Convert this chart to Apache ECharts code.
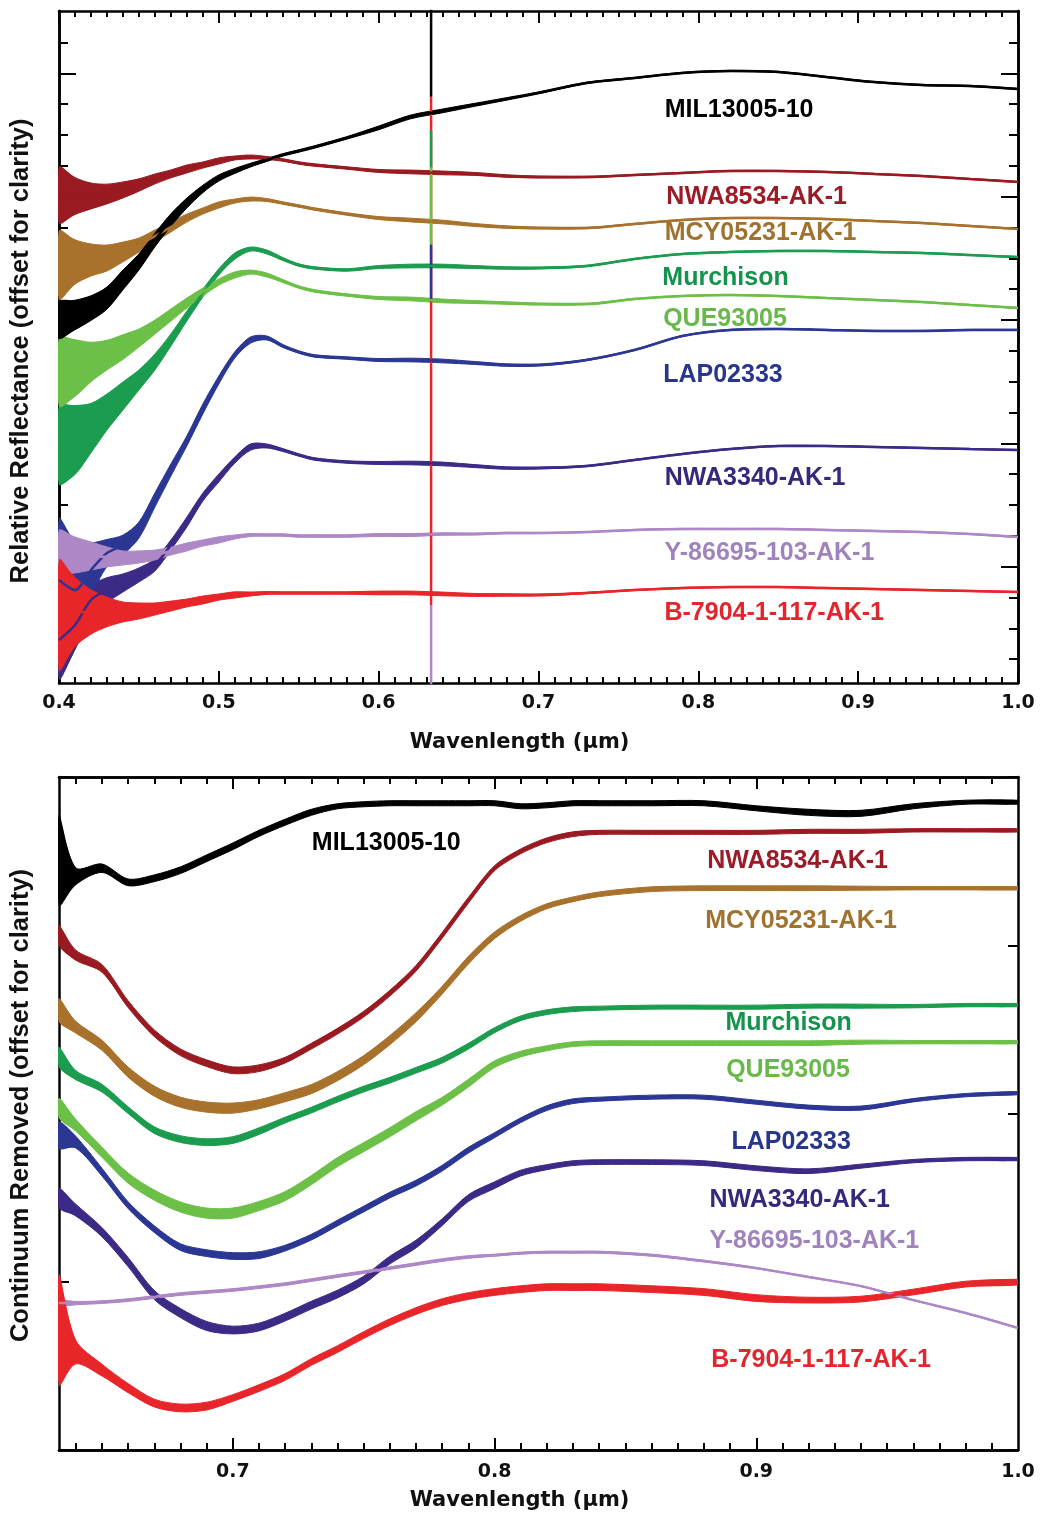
<!DOCTYPE html>
<html>
<head>
<meta charset="utf-8">
<title>Reflectance spectra</title>
<script src="https://cdn.jsdelivr.net/npm/echarts@6/dist/echarts.min.js"></script>
<style>
  html, body { margin: 0; padding: 0; background: #fff; }
  #chart { width: 1042px; height: 1515px; }
</style>
</head>
<body>
<div id="chart"></div>
<script>
// sample names, top to bottom as labelled in the figure
const names = ['MIL13005-10', 'NWA8534-AK-1', 'MCY05231-AK-1', 'Murchison', 'QUE93005',
  'LAP02333', 'NWA3340-AK-1', 'Y-86695-103-AK-1', 'B-7904-1-117-AK-1'];
const lineColors = ['#000000', '#9a1a22', '#a8722c', '#1b9c4e', '#6cc047',
  '#2b3793', '#3d2a86', '#ae88c6', '#e8262a'];
const textColors = ['#000000', '#9b1b27', '#a0722f', '#15924c', '#68b94a',
  '#28378b', '#36287a', '#a083bd', '#e3262e'];
// order in which the curves are stacked (last one on top)
const drawOrder = [6, 5, 7, 3, 4, 2, 1, 0, 8];

// ---------- top panel: relative reflectance (offset), one unit = one major tick ----------
const topWl = [0.40, 0.41, 0.42, 0.43, 0.44, 0.45, 0.46, 0.47, 0.48, 0.49, 0.50, 0.51, 0.52, 0.53, 0.54, 0.55, 0.56,
  0.58, 0.60, 0.62, 0.64, 0.66, 0.68, 0.70, 0.73, 0.76, 0.79, 0.82, 0.85, 0.88, 0.91, 0.94, 0.97, 1.00];

const topMil = [2.000, 2.041, 2.097, 2.178, 2.325, 2.471, 2.649, 2.811, 2.949, 3.063, 3.152, 3.209, 3.257, 3.298, 3.339, 3.371, 3.404,
  3.477, 3.558, 3.647, 3.696, 3.745, 3.793, 3.842, 3.923, 3.963, 4.004, 4.020, 4.012, 3.971, 3.930, 3.906, 3.898, 3.874];
const topNwa8534 = [3.014, 3.006, 3.006, 3.022, 3.055, 3.095, 3.144, 3.185, 3.225, 3.257, 3.290, 3.314, 3.322, 3.314, 3.298, 3.274, 3.257,
  3.233, 3.209, 3.201, 3.193, 3.185, 3.168, 3.160, 3.160, 3.176, 3.193, 3.209, 3.209, 3.201, 3.185, 3.168, 3.144, 3.120];
const topMcy = [2.446, 2.471, 2.487, 2.503, 2.552, 2.608, 2.681, 2.754, 2.827, 2.884, 2.933, 2.965, 2.981, 2.973, 2.949, 2.925, 2.900,
  2.860, 2.827, 2.811, 2.795, 2.771, 2.754, 2.746, 2.746, 2.779, 2.811, 2.827, 2.827, 2.819, 2.803, 2.787, 2.763, 2.738];
const topMurchison = [0.987, 1.027, 1.124, 1.254, 1.384, 1.514, 1.660, 1.838, 2.033, 2.219, 2.390, 2.519, 2.576, 2.552, 2.495, 2.446, 2.422,
  2.406, 2.430, 2.438, 2.438, 2.430, 2.422, 2.422, 2.438, 2.495, 2.536, 2.552, 2.560, 2.560, 2.552, 2.544, 2.527, 2.511];
const topQue = [1.579, 1.611, 1.660, 1.716, 1.781, 1.854, 1.943, 2.041, 2.138, 2.227, 2.308, 2.365, 2.389, 2.365, 2.317, 2.268, 2.236,
  2.203, 2.179, 2.171, 2.155, 2.146, 2.138, 2.130, 2.130, 2.171, 2.195, 2.203, 2.195, 2.179, 2.163, 2.146, 2.122, 2.098];
const topLap = [-0.108, -0.189, -0.027, 0.111, 0.176, 0.297, 0.541, 0.784, 1.020, 1.279, 1.514, 1.717, 1.839, 1.855, 1.790, 1.741, 1.709,
  1.692, 1.676, 1.676, 1.668, 1.652, 1.635, 1.635, 1.676, 1.757, 1.871, 1.920, 1.928, 1.920, 1.912, 1.912, 1.920, 1.920];
const topNwa3340 = [-0.594, -0.473, -0.270, -0.189, -0.132, -0.067, 0.014, 0.176, 0.362, 0.565, 0.719, 0.865, 0.971, 0.979, 0.946, 0.906, 0.873,
  0.849, 0.841, 0.841, 0.833, 0.816, 0.800, 0.800, 0.816, 0.865, 0.914, 0.954, 0.979, 0.979, 0.971, 0.963, 0.954, 0.946];
const topY86695 = [0.119, 0.095, 0.087, 0.079, 0.071, 0.079, 0.095, 0.127, 0.160, 0.192, 0.217, 0.241, 0.257, 0.257, 0.257, 0.249, 0.249,
  0.249, 0.257, 0.257, 0.265, 0.265, 0.273, 0.273, 0.281, 0.298, 0.306, 0.306, 0.306, 0.298, 0.290, 0.281, 0.265, 0.241];
const topB7904 = [-0.392, -0.367, -0.367, -0.367, -0.367, -0.359, -0.343, -0.319, -0.294, -0.270, -0.246, -0.229, -0.221, -0.213, -0.213, -0.213, -0.213,
  -0.213, -0.213, -0.213, -0.221, -0.229, -0.229, -0.229, -0.213, -0.189, -0.173, -0.165, -0.165, -0.173, -0.181, -0.189, -0.197, -0.205];

// half width of the noise band around each curve
const topNoiseMil = [0.15, 0.12, 0.10, 0.09, 0.08, 0.065, 0.055, 0.05, 0.04, 0.03, 0.025, 0.02, 0.015, 0.012, 0.01, 0.01, 0.01,
  0.01, 0.015, 0.015, 0.015, 0.012, 0.01, 0.008, 0.006, 0.005, 0.005, 0.005, 0.005, 0.005, 0.005, 0.005, 0.005, 0.005];
const topNoiseNwa8534 = [0.23, 0.15, 0.105, 0.08, 0.065, 0.05, 0.04, 0.032, 0.032, 0.025, 0.025, 0.016, 0.016, 0.012, 0.01, 0.01, 0.01,
  0.01, 0.012, 0.015, 0.015, 0.012, 0.01, 0.008, 0.006, 0.005, 0.005, 0.005, 0.005, 0.005, 0.005, 0.005, 0.005, 0.005];
const topNoiseMcy = [0.28, 0.18, 0.13, 0.105, 0.08, 0.057, 0.049, 0.04, 0.032, 0.025, 0.025, 0.016, 0.016, 0.012, 0.01, 0.01, 0.01,
  0.01, 0.012, 0.015, 0.015, 0.012, 0.01, 0.008, 0.006, 0.005, 0.005, 0.005, 0.005, 0.005, 0.005, 0.005, 0.005, 0.005];
const topNoiseMurchison = [0.32, 0.28, 0.20, 0.146, 0.114, 0.081, 0.065, 0.049, 0.04, 0.032, 0.025, 0.025, 0.016, 0.016, 0.012, 0.01, 0.01,
  0.01, 0.012, 0.015, 0.015, 0.012, 0.01, 0.008, 0.006, 0.005, 0.005, 0.005, 0.005, 0.005, 0.005, 0.005, 0.005, 0.005];
const topNoiseQue = [0.28, 0.23, 0.16, 0.12, 0.10, 0.073, 0.057, 0.049, 0.04, 0.032, 0.025, 0.025, 0.016, 0.016, 0.012, 0.01, 0.01,
  0.01, 0.012, 0.015, 0.015, 0.012, 0.01, 0.008, 0.006, 0.005, 0.005, 0.005, 0.005, 0.005, 0.005, 0.005, 0.005, 0.005];
const topNoiseLap = [0.50, 0.40, 0.22, 0.11, 0.08, 0.065, 0.057, 0.049, 0.04, 0.04, 0.032, 0.025, 0.025, 0.016, 0.012, 0.01, 0.01,
  0.01, 0.012, 0.015, 0.015, 0.012, 0.01, 0.008, 0.006, 0.005, 0.005, 0.005, 0.005, 0.005, 0.005, 0.005, 0.005, 0.005];
const topNoiseNwa3340 = [0.32, 0.20, 0.12, 0.10, 0.073, 0.057, 0.049, 0.04, 0.04, 0.032, 0.032, 0.025, 0.025, 0.016, 0.012, 0.01, 0.01,
  0.01, 0.012, 0.015, 0.015, 0.012, 0.01, 0.008, 0.006, 0.005, 0.005, 0.005, 0.005, 0.005, 0.005, 0.005, 0.005, 0.005];
const topNoiseY86695 = [0.18, 0.146, 0.114, 0.081, 0.057, 0.049, 0.04, 0.032, 0.032, 0.025, 0.025, 0.016, 0.012, 0.01, 0.01, 0.01, 0.01,
  0.01, 0.012, 0.012, 0.01, 0.008, 0.006, 0.005, 0.005, 0.005, 0.005, 0.005, 0.005, 0.005, 0.005, 0.005, 0.005, 0.005];
const topNoiseB7904 = [0.45, 0.28, 0.18, 0.12, 0.081, 0.065, 0.049, 0.04, 0.032, 0.032, 0.025, 0.025, 0.016, 0.012, 0.01, 0.01, 0.01,
  0.01, 0.015, 0.015, 0.015, 0.012, 0.01, 0.008, 0.006, 0.005, 0.005, 0.005, 0.005, 0.005, 0.005, 0.005, 0.005, 0.005];

// the laser line artefact near 0.633 µm: vertical streaks, drawn in this order
const laserWl = 0.6328;
const laserSample = [8, 7, 0, 3, 4, 5];
const laserHigh = [3.81, -0.31, 4.52, 3.54, 3.24, 2.61];
const laserLow = [-0.31, -0.96, 3.81, 3.24, 2.61, 2.16];

const topLabelWl = [0.779, 0.780, 0.779, 0.7775, 0.778, 0.778, 0.779, 0.7788, 0.7788];
const topLabelY = [3.703, 2.998, 2.706, 2.341, 2.008, 1.554, 0.719, 0.111, -0.375];

const topYMajor = [0, 1, 2, 3, 4];
const topYMinor = [-0.75, -0.5, -0.25, 0.25, 0.5, 0.75, 1.25, 1.5, 1.75, 2.25, 2.5, 2.75, 3.25, 3.5, 3.75, 4.25];

// ---------- bottom panel: continuum removed (offset) ----------
const botWl = [0.6336, 0.64, 0.65, 0.66, 0.67, 0.68, 0.69, 0.70, 0.71, 0.72, 0.73, 0.74, 0.75, 0.76, 0.77, 0.78, 0.79, 0.80,
  0.81, 0.82, 0.83, 0.84, 0.86, 0.88, 0.90, 0.92, 0.94, 0.96, 0.98, 1.00];

const botMil = [3.505, 3.410, 3.458, 3.374, 3.398, 3.446, 3.517, 3.588, 3.665, 3.731, 3.790, 3.826, 3.838, 3.844, 3.844, 3.844, 3.844, 3.844,
  3.826, 3.832, 3.844, 3.844, 3.844, 3.844, 3.814, 3.790, 3.784, 3.826, 3.850, 3.850];
const botNwa8534 = [3.059, 2.941, 2.863, 2.650, 2.477, 2.364, 2.299, 2.257, 2.269, 2.317, 2.400, 2.489, 2.590, 2.715, 2.863, 3.059, 3.267, 3.458,
  3.558, 3.624, 3.660, 3.671, 3.671, 3.671, 3.671, 3.677, 3.677, 3.683, 3.683, 3.683];
const botMcy = [2.614, 2.513, 2.406, 2.246, 2.133, 2.067, 2.038, 2.032, 2.055, 2.097, 2.145, 2.222, 2.317, 2.436, 2.572, 2.733, 2.911, 3.059,
  3.160, 3.232, 3.273, 3.303, 3.333, 3.339, 3.339, 3.339, 3.339, 3.339, 3.339, 3.339];
const botMurchison = [2.335, 2.228, 2.151, 2.020, 1.901, 1.848, 1.830, 1.842, 1.895, 1.961, 2.020, 2.085, 2.145, 2.198, 2.257, 2.317, 2.400, 2.495,
  2.566, 2.602, 2.620, 2.626, 2.632, 2.632, 2.632, 2.638, 2.638, 2.638, 2.644, 2.644];
const botQue = [2.032, 1.931, 1.770, 1.616, 1.515, 1.444, 1.408, 1.408, 1.450, 1.509, 1.604, 1.711, 1.800, 1.889, 1.984, 2.073, 2.180, 2.293,
  2.353, 2.388, 2.412, 2.418, 2.418, 2.418, 2.418, 2.418, 2.424, 2.424, 2.424, 2.424];
const botLap = [1.871, 1.830, 1.652, 1.455, 1.313, 1.206, 1.170, 1.153, 1.158, 1.200, 1.265, 1.349, 1.432, 1.515, 1.586, 1.675, 1.782, 1.871,
  1.960, 2.032, 2.073, 2.085, 2.097, 2.097, 2.067, 2.038, 2.032, 2.079, 2.109, 2.121];
const botNwa3340 = [1.497, 1.426, 1.295, 1.117, 0.921, 0.814, 0.737, 0.713, 0.731, 0.790, 0.861, 0.927, 1.010, 1.129, 1.224, 1.354, 1.497, 1.574,
  1.646, 1.681, 1.705, 1.711, 1.711, 1.705, 1.675, 1.657, 1.687, 1.717, 1.729, 1.729];
const botY86695 = [0.873, 0.873, 0.879, 0.891, 0.909, 0.927, 0.939, 0.951, 0.968, 0.986, 1.010, 1.034, 1.057, 1.081, 1.105, 1.129, 1.147, 1.158,
  1.170, 1.176, 1.176, 1.176, 1.158, 1.123, 1.081, 1.028, 0.974, 0.891, 0.814, 0.725];
const botB7904 = [0.713, 0.582, 0.475, 0.368, 0.279, 0.250, 0.261, 0.309, 0.368, 0.434, 0.523, 0.600, 0.683, 0.760, 0.826, 0.879, 0.915, 0.939,
  0.956, 0.968, 0.968, 0.968, 0.956, 0.939, 0.903, 0.891, 0.897, 0.939, 0.986, 0.998];

const botNoiseMil = [0.27, 0.05, 0.025, 0.02, 0.02, 0.02, 0.02, 0.02, 0.018, 0.018, 0.018, 0.015, 0.015, 0.015, 0.015, 0.015, 0.015, 0.015,
  0.015, 0.015, 0.015, 0.015, 0.015, 0.015, 0.015, 0.018, 0.018, 0.015, 0.012, 0.012];
const botNoiseNwa8534 = [0.06, 0.03, 0.023, 0.02, 0.02, 0.02, 0.02, 0.02, 0.02, 0.017, 0.017, 0.017, 0.017, 0.017, 0.017, 0.017, 0.017, 0.015,
  0.014, 0.014, 0.014, 0.012, 0.012, 0.012, 0.012, 0.012, 0.012, 0.01, 0.01, 0.01];
const botNoiseMcy = [0.07, 0.035, 0.03, 0.03, 0.03, 0.03, 0.03, 0.03, 0.027, 0.027, 0.027, 0.027, 0.027, 0.027, 0.027, 0.023, 0.023, 0.02,
  0.017, 0.015, 0.014, 0.014, 0.014, 0.014, 0.014, 0.014, 0.012, 0.01, 0.01, 0.01];
const botNoiseMurchison = [0.06, 0.027, 0.023, 0.02, 0.02, 0.02, 0.02, 0.02, 0.02, 0.017, 0.017, 0.017, 0.017, 0.017, 0.017, 0.017, 0.017, 0.015,
  0.014, 0.014, 0.014, 0.012, 0.012, 0.012, 0.012, 0.012, 0.012, 0.01, 0.01, 0.01];
const botNoiseQue = [0.06, 0.035, 0.03, 0.03, 0.03, 0.03, 0.03, 0.03, 0.027, 0.027, 0.027, 0.027, 0.027, 0.027, 0.027, 0.023, 0.023, 0.02,
  0.017, 0.015, 0.014, 0.014, 0.014, 0.014, 0.014, 0.014, 0.012, 0.01, 0.01, 0.01];
const botNoiseLap = [0.08, 0.035, 0.023, 0.02, 0.02, 0.02, 0.02, 0.02, 0.02, 0.017, 0.017, 0.017, 0.017, 0.017, 0.017, 0.017, 0.017, 0.015,
  0.014, 0.014, 0.014, 0.012, 0.012, 0.012, 0.012, 0.012, 0.012, 0.01, 0.01, 0.01];
const botNoiseNwa3340 = [0.06, 0.035, 0.027, 0.027, 0.027, 0.027, 0.027, 0.023, 0.023, 0.023, 0.023, 0.023, 0.023, 0.023, 0.023, 0.02, 0.02, 0.02,
  0.017, 0.015, 0.014, 0.014, 0.014, 0.014, 0.014, 0.014, 0.012, 0.01, 0.01, 0.01];
const botNoiseY86695 = [0.02, 0.01, 0.008, 0.008, 0.008, 0.008, 0.008, 0.008, 0.008, 0.008, 0.008, 0.008, 0.008, 0.008, 0.008, 0.008, 0.008, 0.006,
  0.006, 0.006, 0.006, 0.006, 0.006, 0.005, 0.004, 0.003, 0.003, 0.003, 0.003, 0.003];
const botNoiseB7904 = [0.33, 0.07, 0.035, 0.027, 0.023, 0.023, 0.023, 0.02, 0.02, 0.02, 0.02, 0.02, 0.02, 0.02, 0.02, 0.02, 0.02, 0.02,
  0.02, 0.02, 0.02, 0.02, 0.02, 0.02, 0.02, 0.017, 0.017, 0.017, 0.017, 0.017];

const botLabelWl = [0.7302, 0.8813, 0.8805, 0.8882, 0.8885, 0.8905, 0.8821, 0.8821, 0.8828];
const botLabelY = [3.606, 3.499, 3.143, 2.537, 2.257, 1.830, 1.485, 1.242, 0.535];

const botXLabels = [0.7, 0.8, 0.9, 1.0];
const botXMajor = [0.7, 0.8, 0.9];
const botXMinor = [0.64, 0.65, 0.66, 0.67, 0.68, 0.69, 0.71, 0.72, 0.73, 0.74, 0.75, 0.76, 0.77, 0.78, 0.79,
  0.81, 0.82, 0.83, 0.84, 0.85, 0.86, 0.87, 0.88, 0.89, 0.91, 0.92, 0.93, 0.94, 0.95, 0.96, 0.97, 0.98, 0.99];

const topCurves = [topMil, topNwa8534, topMcy, topMurchison, topQue, topLap, topNwa3340, topY86695, topB7904];
const topNoise = [topNoiseMil, topNoiseNwa8534, topNoiseMcy, topNoiseMurchison, topNoiseQue, topNoiseLap, topNoiseNwa3340, topNoiseY86695, topNoiseB7904];
const botCurves = [botMil, botNwa8534, botMcy, botMurchison, botQue, botLap, botNwa3340, botY86695, botB7904];
const botNoise = [botNoiseMil, botNoiseNwa8534, botNoiseMcy, botNoiseMurchison, botNoiseQue, botNoiseLap, botNoiseNwa3340, botNoiseY86695, botNoiseB7904];

// ---------- chart ----------
const chart = echarts.init(document.getElementById('chart'));

const labelFont = 'Liberation Sans, Arial, sans-serif';
const tickFont = 'DejaVu Sans, sans-serif';
const black = '#000';
const axisLine = { show: true, onZero: false, lineStyle: { color: black, width: 2.5 } };

// noise band drawn as one polygon through the axis scales
function bandSeries(wl, mid, hw, color, xi, yi) {
  const upper = wl.map((w, i) => [w, mid[i] + hw[i]]);
  const lower = wl.map((w, i) => [w, mid[i] - hw[i]]).reverse();
  return {
    type: 'custom', xAxisIndex: xi, yAxisIndex: yi, silent: true, clip: true,
    data: [[wl[0], mid[0]]],
    renderItem: (params, api) => ({
      type: 'group',
      children: [upper, lower].map(edge => ({
        type: 'polyline',
        shape: { points: edge.map(p => api.coord(p)), smooth: 0.3 },
        style: { stroke: color, lineWidth: 1, fill: null }
      })).concat([{
        type: 'polygon',
        shape: { points: upper.concat(lower).map(p => api.coord(p)), smooth: 0.3 },
        style: { fill: color }
      }])
    })
  };
}

function lineSeries(wl, vals, color, xi, yi) {
  return {
    type: 'line', xAxisIndex: xi, yAxisIndex: yi, silent: true,
    data: wl.map((w, i) => [w, vals[i]]),
    showSymbol: false, symbol: 'none', smooth: 0.3,
    lineStyle: { color: color, width: 2.5 }
  };
}

function labelSeries(lx, ly, xi, yi) {
  return {
    type: 'scatter', xAxisIndex: xi, yAxisIndex: yi, silent: true,
    symbolSize: 1, itemStyle: { color: 'transparent' },
    data: names.map((n, i) => ({
      value: [lx[i], ly[i]],
      label: { formatter: n, color: textColors[i] }
    })),
    label: {
      show: true, position: 'inside', align: 'left', verticalAlign: 'middle',
      fontFamily: labelFont, fontWeight: 'bold', fontSize: 25,
      textBorderWidth: 0, textBorderColor: 'transparent', opacity: 1
    }
  };
}

const series = [];
// laser artefact streaks in the top panel
laserSample.forEach((s, k) => {
  series.push({
    type: 'line', xAxisIndex: 0, yAxisIndex: 0, silent: true, symbol: 'none',
    data: [[laserWl, laserHigh[k]], [laserWl, laserLow[k]]],
    lineStyle: { color: lineColors[s], width: 2.5 }
  });
});
drawOrder.forEach(i => {
  series.push(bandSeries(topWl, topCurves[i], topNoise[i], lineColors[i], 0, 0));
  series.push(lineSeries(topWl, topCurves[i], lineColors[i], 0, 0));
});
drawOrder.forEach(i => {
  series.push(bandSeries(botWl, botCurves[i], botNoise[i], lineColors[i], 2, 4));
  series.push(lineSeries(botWl, botCurves[i], lineColors[i], 2, 4));
});
series.push(labelSeries(topLabelWl, topLabelY, 0, 0));
series.push(labelSeries(botLabelWl, botLabelY, 2, 4));

function tickLabel(margin) {
  return { fontFamily: tickFont, fontWeight: 'bold', fontSize: 19, color: '#111', margin: margin };
}
function xName(gap) {
  return {
    name: 'Wavenlength (µm)', nameLocation: 'middle', nameGap: gap,
    nameTextStyle: { fontFamily: tickFont, fontWeight: 'bold', fontSize: 21, color: '#111', padding: [0, 38, 0, 0] }
  };
}
function yName(text, pad) {
  return {
    name: text, nameLocation: 'middle', nameGap: 25,
    nameTextStyle: { fontFamily: labelFont, fontWeight: 'bold', fontSize: 25.5, color: '#111', padding: pad }
  };
}
function tick(len, values) {
  const t = { show: true, inside: true, length: len, lineStyle: { color: black, width: 2 } };
  if (values) t.customValues = values;
  return t;
}
const noLabel = { show: false };
const noSplit = { show: false };

const option = {
  animation: false,
  backgroundColor: '#fff',
  grid: [
    { left: 58, top: 11, width: 960, height: 672 },
    { left: 58, top: 777, width: 960, height: 673 }
  ],
  xAxis: [
    // top panel
    Object.assign({
      gridIndex: 0, type: 'value', position: 'bottom', min: 0.4, max: 1.0, interval: 0.1,
      axisLine, axisTick: tick(12), minorTick: { show: true, splitNumber: 10, length: 6, lineStyle: { color: black, width: 2 } },
      splitLine: noSplit, minorSplitLine: noSplit,
      axisLabel: Object.assign({ formatter: v => v.toFixed(1) }, tickLabel(11))
    }, xName(49)),
    {
      gridIndex: 0, type: 'value', position: 'top', min: 0.4, max: 1.0, interval: 0.1,
      axisLine, axisTick: tick(12), minorTick: { show: true, splitNumber: 10, length: 6, lineStyle: { color: black, width: 2 } },
      splitLine: noSplit, minorSplitLine: noSplit, axisLabel: noLabel
    },
    // bottom panel
    Object.assign({
      gridIndex: 1, type: 'value', position: 'bottom', min: 0.6336, max: 1.0,
      axisLine, axisTick: tick(12, botXMajor), splitLine: noSplit,
      axisLabel: Object.assign({ customValues: botXLabels, formatter: v => v.toFixed(1) }, tickLabel(13))
    }, xName(40)),
    {
      gridIndex: 1, type: 'value', position: 'bottom', min: 0.6336, max: 1.0,
      axisLine, axisTick: tick(7, botXMinor), splitLine: noSplit, axisLabel: noLabel
    },
    {
      gridIndex: 1, type: 'value', position: 'top', min: 0.6336, max: 1.0,
      axisLine, axisTick: tick(12, botXMajor), splitLine: noSplit, axisLabel: noLabel
    },
    {
      gridIndex: 1, type: 'value', position: 'top', min: 0.6336, max: 1.0,
      axisLine, axisTick: tick(7, botXMinor), splitLine: noSplit, axisLabel: noLabel
    }
  ],
  yAxis: [
    Object.assign({
      gridIndex: 0, type: 'value', position: 'left', min: -0.943, max: 4.506,
      axisLine, axisTick: tick(17, topYMajor), axisLabel: noLabel, splitLine: noSplit
    }, yName('Relative Reflectance (offset for clarity)', [0, 8, 0, 0])),
    {
      gridIndex: 0, type: 'value', position: 'left', min: -0.943, max: 4.506,
      axisLine, axisTick: tick(9, topYMinor), axisLabel: noLabel, splitLine: noSplit
    },
    {
      gridIndex: 0, type: 'value', position: 'right', min: -0.943, max: 4.506,
      axisLine, axisTick: tick(17, topYMajor), axisLabel: noLabel, splitLine: noSplit
    },
    {
      gridIndex: 0, type: 'value', position: 'right', min: -0.943, max: 4.506,
      axisLine, axisTick: tick(9, topYMinor), axisLabel: noLabel, splitLine: noSplit
    },
    Object.assign({
      gridIndex: 1, type: 'value', position: 'left', min: 0, max: 4, interval: 1,
      axisLine, axisTick: tick(10), axisLabel: noLabel, splitLine: noSplit
    }, yName('Continuum Removed (offset for clarity)', [0, 0, 0, 16])),
    {
      gridIndex: 1, type: 'value', position: 'right', min: 0, max: 4, interval: 1,
      axisLine, axisTick: tick(10), axisLabel: noLabel, splitLine: noSplit
    }
  ],
  series: series
};

chart.setOption(option);
</script>
</body>
</html>
